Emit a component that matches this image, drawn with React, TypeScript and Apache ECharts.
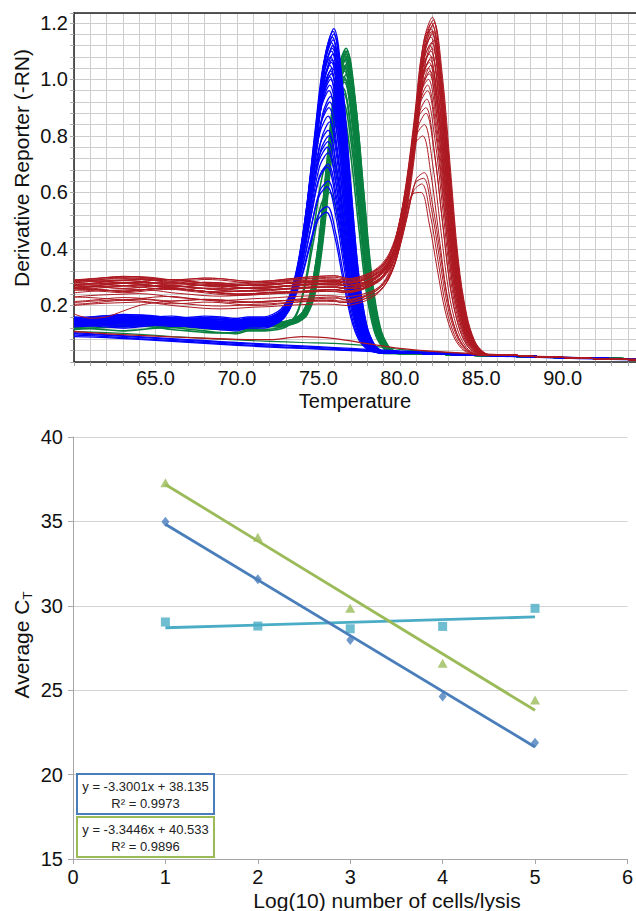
import React, { useEffect, useRef } from "react";
import * as echarts from "echarts";

const FONT = "'Liberation Sans', Arial, sans-serif";

// ---------------- Top chart: melt curves ----------------
const TEMP_MIN = 60;
const TEMP_MAX = 94.5;
const Y_TOP_MAX = 1.235;

// baseline temperatures (before the melt peak)
const BASE_T = [60, 61, 62, 63, 64, 65, 66, 67, 68, 69, 70, 71, 72, 73, 74, 75, 76, 77, 78];
// small baseline wiggles (offsets) read from the flat regions
const WAVE_A = [0.0, 0.005, 0.008, 0.01, 0.012, 0.008, 0.0, -0.005, -0.01, -0.012, -0.01, -0.006, -0.004, 0.0, 0.003, 0.005, 0.004, 0.006, 0.008];
const WAVE_B = [0.01, 0.008, 0.004, 0.0, 0.004, 0.01, 0.012, 0.006, 0.0, -0.006, -0.01, -0.008, -0.004, -0.002, 0.0, 0.004, 0.006, 0.004, 0.002];
const WAVE_C = [-0.006, -0.002, 0.004, 0.008, 0.006, 0.0, -0.004, -0.002, 0.002, 0.0, -0.006, -0.01, -0.008, -0.002, 0.004, 0.008, 0.01, 0.008, 0.006];
const WAVE_DIP = [-0.045, -0.06, -0.055, -0.035, -0.015, -0.005, 0.0, 0.004, 0.006, 0.004, 0.0, -0.002, 0.0, 0.002, 0.004, 0.004, 0.002, 0.0, 0.0];
const WAVES = [WAVE_A, WAVE_B, WAVE_C, WAVE_DIP];

// melt peak shape, offsets from the peak temperature
const PROFILE_D = [-5, -4.5, -4, -3.5, -3, -2.5, -2, -1.5, -1, -0.5, 0, 0.5, 1, 1.5, 2, 2.5, 3, 3.5];
const BASE_WEIGHT = [1, 1, 1, 1, 1, 1, 1, 1, 1, 0.92, 0.75, 0.5, 0.28, 0.14, 0.06, 0.02, 0, 0];
const RED_PROFILE = [0, 0.005, 0.015, 0.03, 0.055, 0.1, 0.19, 0.36, 0.6, 0.88, 1, 0.88, 0.6, 0.3, 0.13, 0.045, 0.012, 0];
const BLUE_PROFILE = [0, 0, 0, 0.01, 0.03, 0.08, 0.2, 0.4, 0.66, 0.9, 1, 0.86, 0.56, 0.26, 0.09, 0.025, 0.005, 0];
const GREEN_PROFILE = [0, 0, 0, 0.005, 0.015, 0.04, 0.12, 0.32, 0.62, 0.9, 1, 0.86, 0.56, 0.26, 0.09, 0.025, 0.005, 0];

// red product
const RED_PEAK = [1.22, 1.21, 1.2, 1.2, 1.19, 1.18, 1.17, 1.17, 1.16, 1.15, 1.14, 1.13, 1.12, 1.11, 1.1, 1.09, 1.08, 1.07, 1.06, 1.05, 1.04, 1.03, 1.02, 1.0, 0.98, 0.96, 0.93, 0.9, 0.88, 0.84, 0.8, 0.67, 0.65, 0.63, 0.6];
const RED_TM = [82.0, 82.05, 81.95, 82.1, 82.0, 81.9, 82.05, 81.95, 82.0, 81.9, 82.1, 81.95, 81.85, 82.0, 81.9, 81.8, 81.95, 81.85, 81.8, 81.9, 81.75, 81.85, 81.8, 81.75, 81.7, 81.7, 81.65, 81.6, 81.6, 81.5, 81.4, 81.5, 81.45, 81.35, 81.3];
const RED_BASE = [0.28, 0.27, 0.29, 0.26, 0.28, 0.295, 0.27, 0.25, 0.28, 0.29, 0.26, 0.27, 0.245, 0.28, 0.295, 0.26, 0.25, 0.27, 0.285, 0.22, 0.28, 0.21, 0.26, 0.27, 0.2, 0.25, 0.22, 0.28, 0.215, 0.245, 0.26, 0.23, 0.25, 0.21, 0.27];
const RED_WAVE = [0, 1, 2, 0, 1, 2, 0, 1, 2, 0, 1, 2, 0, 1, 2, 0, 1, 2, 0, 1, 2, 0, 1, 2, 0, 1, 2, 0, 3, 1, 2, 0, 1, 2, 0];
const RED_TAIL_T = [86.5, 88, 90, 92, 94.5];
const RED_TAIL_V = [0.025, 0.02, 0.016, 0.012, 0.008];

// blue product
const BLUE_PEAK = [1.18, 1.17, 1.16, 1.15, 1.14, 1.13, 1.12, 1.11, 1.1, 1.09, 1.08, 1.07, 1.06, 1.05, 1.04, 1.03, 1.02, 1.01, 1.0, 0.98, 0.96, 0.94, 0.92, 0.9, 0.87, 0.85, 0.82, 0.8, 0.78, 0.76, 0.74, 0.7, 0.69, 0.64, 0.62, 0.55, 0.53];
const BLUE_TM = [75.95, 75.9, 75.95, 75.85, 75.9, 75.8, 75.9, 75.85, 75.8, 75.9, 75.75, 75.85, 75.8, 75.7, 75.85, 75.75, 75.8, 75.7, 75.75, 75.7, 75.65, 75.75, 75.7, 75.65, 75.6, 75.7, 75.6, 75.65, 75.6, 75.55, 75.6, 75.6, 75.55, 75.6, 75.55, 75.55, 75.5];
const BLUE_BASE = [0.14, 0.13, 0.15, 0.135, 0.145, 0.155, 0.125, 0.14, 0.155, 0.13, 0.15, 0.145, 0.135, 0.12, 0.15, 0.14, 0.13, 0.16, 0.145, 0.135, 0.15, 0.14, 0.125, 0.15, 0.14, 0.13, 0.15, 0.145, 0.155, 0.135, 0.14, 0.15, 0.13, 0.145, 0.14, 0.15, 0.135];
const BLUE_WAVE = [0, 1, 2, 1, 0, 2, 1, 0, 2, 0, 1, 2, 0, 1, 2, 1, 0, 2, 1, 0, 2, 0, 1, 2, 0, 1, 2, 1, 0, 2, 1, 0, 2, 0, 1, 2, 0];
const BLUE_TAIL_T = [80, 82, 84, 86, 88, 90, 92, 94.5];
const BLUE_TAIL_V = [0.032, 0.029, 0.026, 0.023, 0.02, 0.016, 0.013, 0.01];

// green product
const GREEN_PEAK = [1.11, 1.1, 1.1, 1.09, 1.09, 1.08, 1.08, 1.07, 1.07, 1.06, 1.05, 1.05, 1.04, 1.03, 1.02, 1.01, 1.0, 0.99, 0.97, 0.95, 0.92, 0.88, 0.72, 0.6];
const GREEN_TM = [76.7, 76.65, 76.75, 76.7, 76.6, 76.75, 76.65, 76.7, 76.6, 76.8, 76.65, 76.55, 76.7, 76.6, 76.75, 76.55, 76.65, 76.6, 76.5, 76.55, 76.5, 76.45, 75.8, 75.7];
const GREEN_BASE = [0.13, 0.135, 0.128, 0.14, 0.132, 0.13, 0.135, 0.14, 0.13, 0.128, 0.135, 0.14, 0.13, 0.132, 0.135, 0.14, 0.128, 0.13, 0.138, 0.135, 0.125, 0.13, 0.115, 0.11];
const GREEN_WAVE = [2, 0, 1, 2, 0, 1, 2, 0, 1, 2, 0, 1, 2, 0, 1, 2, 0, 1, 2, 0, 1, 2, 0, 1];
const GREEN_TAIL_T = [81, 83, 86, 90, 94.5];
const GREEN_TAIL_V = [0.03, 0.027, 0.022, 0.016, 0.01];

// flat (no-product) curves
const LOW_T = [60, 62, 64, 66, 68, 70, 72, 74, 76, 78, 80, 82, 84, 86, 88, 90, 92, 94.5];
const LOW_BLUE_1 = [0.1, 0.094, 0.087, 0.08, 0.073, 0.066, 0.06, 0.054, 0.048, 0.042, 0.036, 0.031, 0.027, 0.023, 0.019, 0.016, 0.013, 0.01];
const LOW_BLUE_2 = [0.095, 0.09, 0.083, 0.076, 0.069, 0.062, 0.056, 0.05, 0.045, 0.04, 0.035, 0.03, 0.026, 0.022, 0.018, 0.015, 0.012, 0.009];
const LOW_BLUE_3 = [0.09, 0.086, 0.08, 0.073, 0.066, 0.059, 0.053, 0.048, 0.043, 0.038, 0.033, 0.029, 0.025, 0.021, 0.017, 0.014, 0.011, 0.008];
const LOW_BLUE_4 = [0.104, 0.097, 0.09, 0.083, 0.076, 0.069, 0.063, 0.057, 0.051, 0.045, 0.039, 0.034, 0.029, 0.024, 0.02, 0.017, 0.014, 0.011];
const LOW_RED = [0.108, 0.1, 0.094, 0.089, 0.084, 0.08, 0.079, 0.09, 0.083, 0.065, 0.048, 0.038, 0.031, 0.026, 0.021, 0.017, 0.013, 0.01];
const LOW_GREEN = [0.108, 0.104, 0.098, 0.09, 0.084, 0.078, 0.073, 0.069, 0.066, 0.058, 0.045, 0.036, 0.03, 0.025, 0.02, 0.016, 0.013, 0.01];

const RED = "#ad1a22";
const BLUE = "#0000ff";
const GREEN = "#0a8040";

// ---------------- Bottom chart: standard curves ----------------
const LOG_CELLS = [1, 2, 3, 4, 5];
const CT_BLUE = [34.98, 31.57, 27.97, 24.62, 21.89];
const CT_GREEN = [37.29, 34.06, 29.85, 26.59, 24.42];
const CT_CYAN = [29.04, 28.8, 28.64, 28.78, 29.85];
const TREND_SLOPE = [-3.3001, -3.3446, 0.16];
const TREND_INTERCEPT = [38.135, 40.533, 28.54];
const EQ_BLUE = ["y = -3.3001x + 38.135", "R\u00b2 = 0.9973"];
const EQ_GREEN = ["y = -3.3446x + 40.533", "R\u00b2 = 0.9896"];
const C_BLUE = "#4a7ebb";
const C_GREEN = "#9bbb59";
const C_CYAN = "#4bacc6";

function meltCurve(tm: number, peak: number, base: number, waveIdx: number, profile: number[], tailT: number[], tailV: number[]) {
  const pts: number[][] = [];
  const start = tm + PROFILE_D[0];
  const wave = WAVES[waveIdx];
  BASE_T.forEach((t, k) => {
    if (t < start - 0.2) pts.push([t, base + wave[k]]);
  });
  const tail0 = tailV[0];
  const i0 = PROFILE_D.indexOf(0);
  const h = (peak - base * BASE_WEIGHT[i0] - tail0 * (1 - BASE_WEIGHT[i0])) / profile[i0];
  PROFILE_D.forEach((d, k) => {
    pts.push([tm + d, base * BASE_WEIGHT[k] + tail0 * (1 - BASE_WEIGHT[k]) + h * profile[k]]);
  });
  const end = tm + PROFILE_D[PROFILE_D.length - 1];
  tailT.forEach((t, k) => {
    if (t > end + 0.3) pts.push([t, tailV[k]]);
  });
  return pts;
}

function lineSeries(data: number[][], color: string, width: number) {
  return {
    type: "line",
    xAxisIndex: 0,
    yAxisIndex: 0,
    data,
    showSymbol: false,
    symbol: "none",
    smooth: 0.35,
    silent: true,
    lineStyle: { color, width },
  };
}

export default function App() {
  const ref = useRef<HTMLDivElement>(null);
  useEffect(() => {
    document.body.style.margin = "0";
    if (!ref.current) return;
    const chart = echarts.init(ref.current, undefined, { renderer: "svg" });

    const series: any[] = [];
    GREEN_PEAK.forEach((p, i) =>
      series.push(lineSeries(meltCurve(GREEN_TM[i], p, GREEN_BASE[i], GREEN_WAVE[i], GREEN_PROFILE, GREEN_TAIL_T, GREEN_TAIL_V), GREEN, 1.6))
    );
    const lowsUnder: [number[], string][] = [[LOW_GREEN, GREEN]];
    lowsUnder.forEach(([vals, c]) => series.push(lineSeries(LOW_T.map((t, k) => [t, vals[k]]), c, 1.2)));
    BLUE_PEAK.forEach((p, i) =>
      series.push(lineSeries(meltCurve(BLUE_TM[i], p, BLUE_BASE[i], BLUE_WAVE[i], BLUE_PROFILE, BLUE_TAIL_T, BLUE_TAIL_V), BLUE, 1.3))
    );
    const lows: [number[], string][] = [
      [LOW_BLUE_1, BLUE],
      [LOW_BLUE_2, BLUE],
      [LOW_BLUE_3, BLUE],
      [LOW_BLUE_4, BLUE],
      [LOW_RED, RED],
    ];
    lows.forEach(([vals, c]) => series.push(lineSeries(LOW_T.map((t, k) => [t, vals[k]]), c, 1.3)));
    RED_PEAK.forEach((p, i) =>
      series.push(lineSeries(meltCurve(RED_TM[i], p, RED_BASE[i], RED_WAVE[i], RED_PROFILE, RED_TAIL_T, RED_TAIL_V), RED, 1))
    );

    // bottom chart
    const scatter = (vals: number[], color: string, symbol: string, size: number | number[]) => ({
      type: "scatter",
      xAxisIndex: 2,
      yAxisIndex: 1,
      data: LOG_CELLS.map((x, k) => [x, vals[k]]),
      symbol,
      symbolSize: size,
      itemStyle: { color },
      silent: true,
      z: 3,
    });
    const trend = (idx: number, color: string) => {
      const x0 = LOG_CELLS[0];
      const x1 = LOG_CELLS[LOG_CELLS.length - 1];
      return {
        type: "line",
        xAxisIndex: 2,
        yAxisIndex: 1,
        data: [
          [x0, TREND_INTERCEPT[idx] + TREND_SLOPE[idx] * x0],
          [x1, TREND_INTERCEPT[idx] + TREND_SLOPE[idx] * x1],
        ],
        showSymbol: false,
        symbol: "none",
        silent: true,
        lineStyle: { color, width: 2.8 },
        z: 4,
      };
    };
    series.push(scatter(CT_CYAN, C_CYAN, "rect", 9));
    series.push(scatter(CT_BLUE, C_BLUE, "diamond", [8, 10]));
    series.push(scatter(CT_GREEN, C_GREEN, "triangle", [10, 9]));
    series.push(trend(2, C_CYAN));
    series.push(trend(0, C_BLUE));
    series.push(trend(1, C_GREEN));

    const topYFormatter = (v: number) => {
      const k = Math.round(v / 0.04);
      return k > 0 && k % 5 === 0 ? (k * 0.04).toFixed(1) : "";
    };
    const topXFormatter = (v: number) => (Math.abs(v % 5) < 1e-6 && v > TEMP_MIN ? v.toFixed(1) : "");

    const eqBox = (y: number, color: string, lines: string[]) => ({
      type: "group",
      children: [
        { type: "rect", shape: { x: 77, y, width: 137, height: 40 }, style: { fill: "#fff", stroke: color, lineWidth: 2 }, z: 10 },
        { type: "text", x: 145.5, y: y + 12, style: { text: lines[0], fontSize: 13, fontFamily: FONT, fill: "#222", align: "center", verticalAlign: "middle" }, z: 11 },
        { type: "text", x: 145.5, y: y + 29.5, style: { text: lines[1], fontSize: 13, fontFamily: FONT, fill: "#222", align: "center", verticalAlign: "middle" }, z: 11 },
      ],
    });

    chart.setOption({
      animation: false,
      backgroundColor: "#ffffff",
      textStyle: { fontFamily: FONT },
      grid: [
        { left: 74, top: 13, width: 562, height: 349 },
        { left: 73, top: 437, width: 558, height: 422 },
      ],
      xAxis: [
        {
          gridIndex: 0,
          type: "value",
          min: TEMP_MIN,
          max: TEMP_MAX,
          interval: 1,
          axisLine: { show: true, onZero: false, lineStyle: { color: "#222", width: 1.5 } },
          axisTick: { show: true, length: 4, lineStyle: { color: "#aaa" } },
          axisLabel: { formatter: topXFormatter, fontSize: 20, color: "#111", margin: 6, fontFamily: FONT, showMaxLabel: false },
          splitLine: { show: true, lineStyle: { color: "#cdcdcd", width: 1 } },
        },
        {
          gridIndex: 0,
          type: "value",
          position: "top",
          min: TEMP_MIN,
          max: TEMP_MAX,
          axisLine: { show: true, onZero: false, lineStyle: { color: "#222", width: 1.5 } },
          axisTick: { show: false },
          axisLabel: { show: false },
          splitLine: { show: false },
        },
        {
          gridIndex: 1,
          type: "value",
          min: 0,
          max: 6,
          interval: 1,
          axisLine: { show: true, onZero: false, lineStyle: { color: "#a6a6a6", width: 1 } },
          axisTick: { show: true, length: 5, lineStyle: { color: "#a6a6a6" } },
          axisLabel: { fontSize: 20, color: "#111", margin: 8, fontFamily: FONT },
          splitLine: { show: false },
        },
      ],
      yAxis: [
        {
          gridIndex: 0,
          type: "value",
          min: 0,
          max: Y_TOP_MAX,
          interval: 0.04,
          axisLine: { show: true, onZero: false, lineStyle: { color: "#222", width: 1.5 } },
          axisTick: { show: true, length: 4, lineStyle: { color: "#aaa" } },
          axisLabel: { formatter: topYFormatter, fontSize: 20, color: "#111", margin: 6, fontFamily: FONT },
          splitLine: { show: true, lineStyle: { color: "#cdcdcd", width: 1 } },
        },
        {
          gridIndex: 1,
          type: "value",
          min: 15,
          max: 40,
          interval: 5,
          axisLine: { show: true, onZero: false, lineStyle: { color: "#a6a6a6", width: 1 } },
          axisTick: { show: true, length: 5, lineStyle: { color: "#a6a6a6" } },
          axisLabel: { fontSize: 20, color: "#111", margin: 10, fontFamily: FONT },
          splitLine: { show: true, lineStyle: { color: "#d4d4d4", width: 1 } },
        },
      ],
      series,
      graphic: [
        {
          type: "text",
          x: 21,
          y: 168,
          rotation: Math.PI / 2,
          style: { text: "Derivative Reporter (-RN)", fontSize: 21, fontFamily: FONT, fill: "#111", align: "center", verticalAlign: "middle" },
        },
        {
          type: "text",
          x: 355,
          y: 401,
          style: { text: "Temperature", fontSize: 20, fontFamily: FONT, fill: "#111", align: "center", verticalAlign: "middle" },
        },
        {
          type: "text",
          x: 21,
          y: 645,
          rotation: Math.PI / 2,
          style: {
            text: "Average C{sub|T}",
            fontSize: 21,
            lineHeight: 26,
            fontFamily: FONT,
            fill: "#111",
            align: "center",
            verticalAlign: "middle",
            rich: { sub: { fontSize: 13, lineHeight: 14, fontFamily: FONT, fill: "#111", verticalAlign: "bottom" } },
          },
        },
        {
          type: "text",
          x: 387,
          y: 900,
          style: { text: "Log(10) number of cells/lysis", fontSize: 21, fontFamily: FONT, fill: "#111", align: "center", verticalAlign: "middle" },
        },
        eqBox(774, C_BLUE, EQ_BLUE),
        eqBox(817, C_GREEN, EQ_GREEN),
      ],
    });
    return () => chart.dispose();
  }, []);
  return <div ref={ref} style={{ width: 636, height: 911 }} />;
}
